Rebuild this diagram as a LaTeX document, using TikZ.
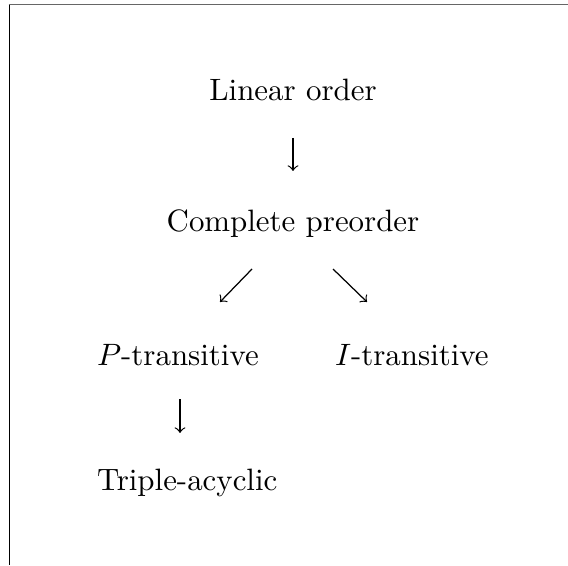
\documentclass[tikz,border=0pt]{standalone}
\usetikzlibrary{calc}
\begin{document}
\begin{tikzpicture}[x=0.3236pt,y=-0.3236pt,
  lbl/.style={inner sep=0pt,outer sep=0pt,text height=7pt,text depth=2pt,font=\fontsize{10}{12}\selectfont},
  arr/.style={->,line width=0.4pt},
  frameline/.style={line width=0.5pt}]
\useasboundingbox (0,0) rectangle (568,565);
% frame lines
\draw[frameline,black!60] (8.7,4.5) -- (568,4.5);
\draw[frameline,black] (9.3,5) -- (9.3,565);
% nodes
\node[lbl,anchor=base] (lin) at (293,100) {Linear order};
\node[lbl,anchor=base] (cp) at (293,231) {Complete preorder};
\node[lbl,anchor=base west] (pt) at (97,365) {$P$-transitive};
\node[lbl,anchor=base west] (it) at (335,365) {$I$-transitive};
\node[lbl,anchor=base west] (tr) at (97,490) {Triple-acyclic};
% arrows
\draw[arr] ($(lin.south)+(0,31.8)$) -- ($(cp.north)+(0,-38.4)$);
\draw[arr] ($(cp.south)+(-41,31.8)$) -- ($(pt.north west)+(123,-41.4)$);
\draw[arr] ($(cp.south)+(40,31.8)$) -- ($(it.north west)+(32,-41.4)$);
\draw[arr] ($(pt.south west)+(83,27.8)$) -- ($(tr.north west)+(83,-35.4)$);
\end{tikzpicture}
\end{document}
